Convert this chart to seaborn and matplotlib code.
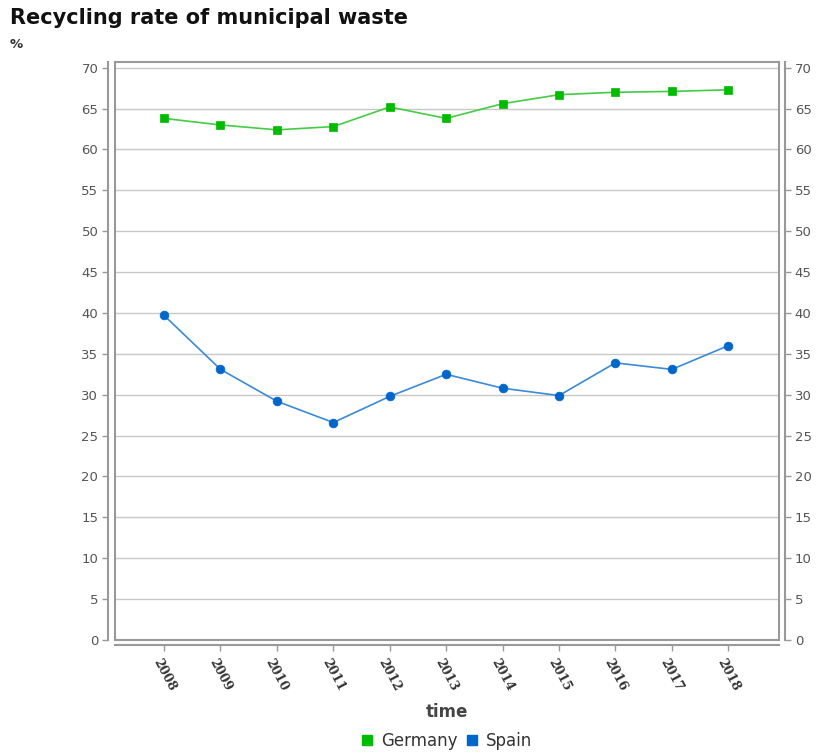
import matplotlib
matplotlib.use("Agg")
import matplotlib.pyplot as plt
from matplotlib.lines import Line2D
from matplotlib.patches import Rectangle
import seaborn as sns
import pandas as pd

years = [2008, 2009, 2010, 2011, 2012, 2013, 2014, 2015, 2016, 2017, 2018]
germany = [63.8, 63.0, 62.4, 62.8, 65.2, 63.8, 65.6, 66.7, 67.0, 67.1, 67.3]
spain = [39.7, 33.1, 29.2, 26.6, 29.8, 32.5, 30.8, 29.9, 33.9, 33.1, 36.0]
countries = ["Germany", "Spain"]
yticks = list(range(0, 71, 5))

df = pd.DataFrame({
    "year": years * 2,
    "value": germany + spain,
    "country": ["Germany"] * len(years) + ["Spain"] * len(years),
})

sns.set_style("white")
plt.rcParams["font.family"] = ["DejaVu Sans"]

line_colors = {"Germany": "#44cc44", "Spain": "#3a8ad8"}
marker_colors = {"Germany": "#00bb00", "Spain": "#0066cc"}
markers = {"Germany": "s", "Spain": "o"}
msizes = {"Germany": 6.3, "Spain": 6.3}

fig = plt.figure(figsize=(8.16, 7.54), dpi=100)
ax = fig.add_axes([115/816, 1-640/754, (779-115)/816, (640-62)/754])

for c in countries:
    sub = df[df["country"] == c]
    sns.lineplot(data=sub, x="year", y="value", ax=ax, color=line_colors[c],
                 linewidth=1.2, marker=markers[c], markersize=msizes[c],
                 markerfacecolor=marker_colors[c], markeredgecolor=marker_colors[c],
                 markeredgewidth=0.5, legend=False, zorder=3)

ax2 = ax.twinx()

ax.set_xlim(2007.13, 2018.9)
ax.set_ylim(0, 70.7)
ax2.set_ylim(0, 70.7)
ax.set_yticks(yticks)
ax2.set_yticks(yticks)
ax.set_xticks(years)
ax.set_xlabel("")
ax.set_ylabel("")
ax.grid(axis="y", color="#c8c8c8", linewidth=1)
ax.set_axisbelow(True)

spine_col = "#999999"
for s in ["top", "right"]:
    ax.spines[s].set_visible(False)
ax.spines["left"].set_position(("outward", 5))
ax.spines["bottom"].set_position(("outward", 3.6))
for s in ["left", "bottom"]:
    ax.spines[s].set_color(spine_col)
    ax.spines[s].set_linewidth(1.5)
ax.tick_params(axis="both", which="major", direction="out", length=4, width=1,
               color=spine_col, pad=3)
ax.tick_params(axis="y", left=True, labelsize=9.5, labelcolor="#555555")
ax.tick_params(axis="x", bottom=True, pad=4)

ax.add_patch(Rectangle((0, 0), 1, 1, transform=ax.transAxes, fill=False,
                       edgecolor="#999999", linewidth=1.5, clip_on=False, zorder=5))

for s in ["top", "left", "bottom"]:
    ax2.spines[s].set_visible(False)
ax2.spines["right"].set_position(("outward", 4.3))
ax2.spines["right"].set_color(spine_col)
ax2.spines["right"].set_linewidth(1.5)
ax2.tick_params(axis="y", right=True, direction="out", length=4, width=1,
                color=spine_col, pad=3, labelsize=9.5, labelcolor="#555555")
ax2.grid(False)

fig.canvas.draw()
for lab in ax.get_xticklabels():
    lab.set_rotation(-62)
    lab.set_ha("center")
    lab.set_va("top")
    lab.set_family("DejaVu Serif")
    lab.set_fontweight("bold")
    lab.set_fontsize(9)
    lab.set_color("#333333")

fig.text(10/816, 1-18/754, "Recycling rate of municipal waste", fontsize=15,
         fontweight="bold", ha="left", va="center", color="#111111")
fig.text(10/816, 1-44/754, "%", fontsize=9.5, fontweight="bold", ha="left",
         va="center", color="#333333")
fig.text(447/816, 1-712/754, "time", fontsize=12, fontweight="bold",
         ha="center", va="center", color="#444444")

handles = [Line2D([], [], marker="s", linestyle="none", markersize=7,
                  markerfacecolor=marker_colors[c], markeredgecolor=marker_colors[c])
           for c in countries]
fig.legend(handles, countries, loc="center", bbox_to_anchor=(447/816, 1-741/754),
           ncol=2, frameon=False, fontsize=12, handlelength=0.7, handletextpad=0.5,
           columnspacing=0.5, labelcolor="#333333")

fig.savefig("out.png", dpi=100)
